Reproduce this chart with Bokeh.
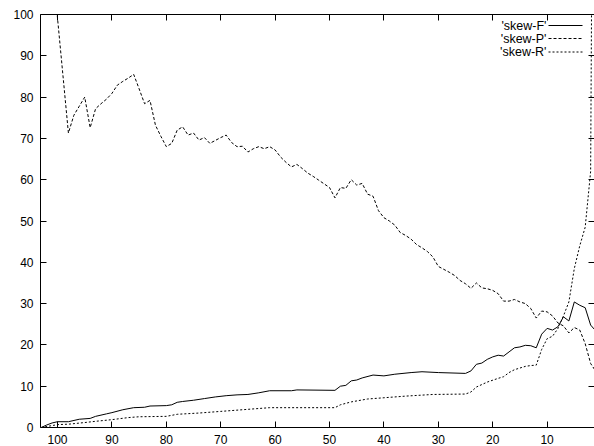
from bokeh.plotting import figure
from bokeh.models import Range1d, LinearAxis, FixedTicker, Label, Arrow
from bokeh.embed import file_html
from bokeh.resources import INLINE

# ---- data ----
f_x = [103, 102, 101, 100, 98, 96, 94, 93, 91, 90, 88, 86, 84, 83, 80, 79, 78, 77, 75, 73, 71, 69, 67, 65, 63, 61, 57, 56,
       49, 48, 47, 46, 45, 44, 42, 40, 38, 35, 33, 30, 25, 24, 23, 22, 21, 20, 19, 18, 17, 16, 15, 14, 13, 12, 11, 10,
       9, 8, 7, 6, 5, 4, 3, 2, 1]
f_y = [0.0, 0.6, 1.1, 1.4, 1.4, 2.0, 2.2, 2.7, 3.3, 3.6, 4.3, 4.8, 4.9, 5.2, 5.3, 5.5, 6.1, 6.3, 6.6, 7.0, 7.4, 7.7, 7.9, 8.0, 8.4, 8.9, 8.9, 9.1,
       9.0, 10.0, 10.2, 11.3, 11.5, 12.0, 12.7, 12.5, 12.9, 13.3, 13.5, 13.3, 13.1, 13.7, 15.3, 15.6, 16.5, 17.1, 17.5, 17.3, 18.3, 19.3, 19.5, 19.9, 19.8, 19.3, 22.6, 24.0,
       23.6, 24.4, 26.8, 25.8, 30.4, 29.6, 29.0, 24.8, 23.3]

p_x = [101, 98, 97, 96, 95, 94, 93, 92, 91, 90, 89, 88, 87, 86, 85, 84, 83, 82, 81, 80, 79, 78, 77, 76, 75, 74, 73, 72, 71, 70,
       69, 68, 67, 66, 65, 64, 63, 62, 61, 60, 59, 58, 57, 56, 55, 54, 53, 52, 51, 50, 49, 48, 47, 46, 45, 44, 43, 42, 41, 40,
       39, 38, 37, 36, 35, 34, 33, 32, 31, 30, 29, 28, 27, 26, 25, 24, 23, 22, 21, 20, 19, 18, 17, 16, 15, 14, 13, 12, 11, 10,
       9, 8, 7, 6, 5, 4, 3, 2, 1]
p_y = [113.0, 71.3, 75.6, 77.8, 80.0, 72.6, 77.2, 78.4, 79.5, 80.9, 82.9, 83.8, 84.6, 85.5, 82.0, 78.4, 79.2, 73.2, 70.5, 68.0,
       68.8, 72.0, 72.8, 70.8, 71.3, 69.6, 70.2, 68.8, 69.5, 70.2, 70.8, 69.0, 68.0, 68.1, 66.7, 67.5, 68.0, 67.5, 68.0, 67.2,
       65.5, 64.2, 63.1, 63.7, 62.7, 61.6, 60.8, 59.9, 59.0, 58.1, 55.6, 58.1, 57.9, 60.0, 58.7, 59.1, 56.5, 56.0, 52.5, 50.8,
       50.0, 49.0, 47.2, 46.5, 45.6, 44.3, 43.5, 42.6, 41.3, 39.0, 38.3, 37.6, 36.8, 35.6, 34.8, 33.7, 35.0, 33.8, 33.6, 33.2,
       32.4, 30.6, 30.6, 31.0, 30.4, 30.0, 28.8, 26.5, 28.2, 28.0, 27.0, 25.3, 24.6, 22.9, 24.2, 23.6, 20.3, 15.5, 13.5]

r_x = [103, 100, 98, 95, 93, 90, 87, 85, 80, 78, 74, 70, 66, 63, 61, 55, 49, 48, 46, 43, 40, 36, 31, 25, 24, 23, 21, 19, 18,
       17, 16, 15, 14, 13, 12, 11, 10, 9, 8, 7, 6, 5, 4, 3, 2, 1]
r_y = [0.0, 0.7, 0.8, 1.2, 1.5, 1.9, 2.4, 2.6, 2.7, 3.2, 3.5, 3.9, 4.3, 4.6, 4.8, 4.8, 4.8, 5.5, 6.2, 6.9, 7.2, 7.6, 8.0, 8.1, 8.6, 9.8, 11.0, 11.9, 12.3,
       13.3, 14.0, 14.4, 14.8, 15.0, 15.1, 18.9, 21.5, 22.1, 24.0, 27.0, 30.4, 38.5, 44.0, 48.5, 62.0, 300.0]

x_ticks = [100, 90, 80, 70, 60, 50, 40, 30, 20, 10]
y_ticks = [0, 10, 20, 30, 40, 50, 60, 70, 80, 90, 100]
series_names = ["'skew-F'", "'skew-P'", "'skew-R'"]
series_dash = ["solid", "3 2", "2 2"]

FONT = "Liberation Sans"

p = figure(width=594, height=446, output_backend="svg", toolbar_location=None,
           x_range=Range1d(103.13, 1.29), y_range=Range1d(0, 100),
           min_border_left=40, min_border_right=0, min_border_top=14, min_border_bottom=19)
p.outline_line_color = None
p.xgrid.visible = False
p.ygrid.visible = False
p.background_fill_color = "white"
p.border_fill_color = "white"


def style_axis(ax, ticks, labels=True, line=True):
    ax.ticker = FixedTicker(ticks=ticks)
    ax.major_tick_in = 6
    ax.major_tick_out = 0
    ax.minor_tick_in = 0
    ax.minor_tick_out = 0
    ax.major_tick_line_color = "black"
    ax.axis_line_color = "black" if line else None
    ax.major_label_text_font = FONT
    if labels:
        ax.major_label_text_color = "black"
        ax.major_label_text_font_size = "12px"
        ax.major_label_standoff = 5
    else:
        ax.major_label_text_color = None
        ax.major_label_text_font_size = "1px"
        ax.major_label_standoff = 0


style_axis(p.xaxis[0], x_ticks)
p.xaxis[0].major_label_standoff = 7
style_axis(p.yaxis[0], y_ticks)
p.yaxis[0].major_label_standoff = 7

top = LinearAxis()
style_axis(top, x_ticks, labels=False)
p.add_layout(top, "above")
right = LinearAxis()
style_axis(right, y_ticks, labels=False, line=False)
p.add_layout(right, "right")

for xs, ys, dash in [(f_x, f_y, series_dash[0]), (p_x, p_y, series_dash[1]), (r_x, r_y, series_dash[2])]:
    p.line(xs, ys, line_color="black", line_width=1, line_dash=dash)

# legend (gnuplot style: text right-aligned, sample to the right)
rows = [402, 389, 375.5]
for name, dash, yy in zip(series_names, series_dash, rows):
    p.add_layout(Label(x=506, y=yy, x_units="screen", y_units="screen", text=name,
                       text_font=FONT, text_font_size="12.5px", text_align="right",
                       text_baseline="middle", text_color="black"))
    p.add_layout(Arrow(start=None, end=None, x_start=508, y_start=yy, x_end=542, y_end=yy,
                       start_units="screen", end_units="screen",
                       line_color="black", line_width=1, line_dash=dash))

open("out.html", "w").write(file_html(p, INLINE))
